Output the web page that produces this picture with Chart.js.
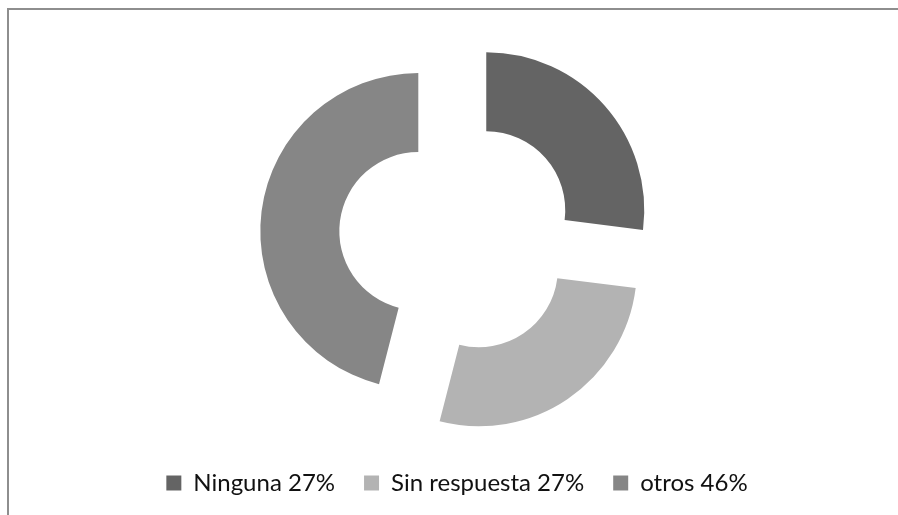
<!DOCTYPE html>
<html>
<head>
<meta charset="utf-8">
<script src="https://cdn.jsdelivr.net/npm/chart.js@4.4.1/dist/chart.umd.min.js"></script>
<style>
    html, body { margin: 0; padding: 0; background: #fff; }
    #wrap { position: relative; width: 898px; height: 515px; overflow: hidden; }
    #frame {
        position: absolute; left: 7px; top: 8px; width: 1000px; height: 1000px;
        border-left: 2px solid #8e8e8e; border-top: 2px solid #8e8e8e;
    }
    #box { position: absolute; left: 0; top: 0; width: 898px; height: 515px; }
</style>
</head>
<body>
<div id="wrap">
    <div id="frame"></div>
    <div id="box"><canvas id="chartDona"></canvas></div>
</div>
<script>
    // valores
    const categorias = ['Ninguna 27%', 'Sin respuesta 27%', 'otros 46%'];
    const valores = [27, 27, 46];
    const colores = ['#646464', '#b3b3b3', '#868686'];

    const DESPLAZO = 39; // separación de cada porción hacia fuera (px)

    // el offset de chart.js agranda las porciones > 90°, así que se desplaza a mano
    const explotar = {
        id: 'explotar',
        beforeDatasetDraw(chart, args) {
            const c = chart.ctx;
            args.meta.data.forEach(arc => {
                const mid = (arc.startAngle + arc.endAngle) / 2;
                c.save();
                c.translate(Math.cos(mid) * DESPLAZO, Math.sin(mid) * DESPLAZO);
                arc.draw(c);
                c.restore();
            });
            return false;
        }
    };

    const ctx = document.getElementById('chartDona').getContext('2d');
    const chartDona = new Chart(ctx, {
        type: 'doughnut',
        data: {
            labels: categorias,
            datasets: [{
                data: valores,
                backgroundColor: colores,
                borderWidth: 0,
                offset: 0,
                hoverOffset: 0,
                radius: 158
            }]
        },
        options: {
            responsive: true,
            maintainAspectRatio: false,
            animation: false,
            cutout: '50%',
            layout: {
                padding: { left: 16, right: 0, top: 30, bottom: 10 }
            },
            plugins: {
                tooltip: { enabled: false },
                legend: {
                    position: 'bottom',
                    labels: {
                        color: '#111',
                        boxWidth: 15,
                        boxHeight: 15,
                        padding: 29,
                        font: { family: 'Lato', size: 24 }
                    }
                }
            }
        },
        plugins: [explotar]
    });
</script>
</body>
</html>
